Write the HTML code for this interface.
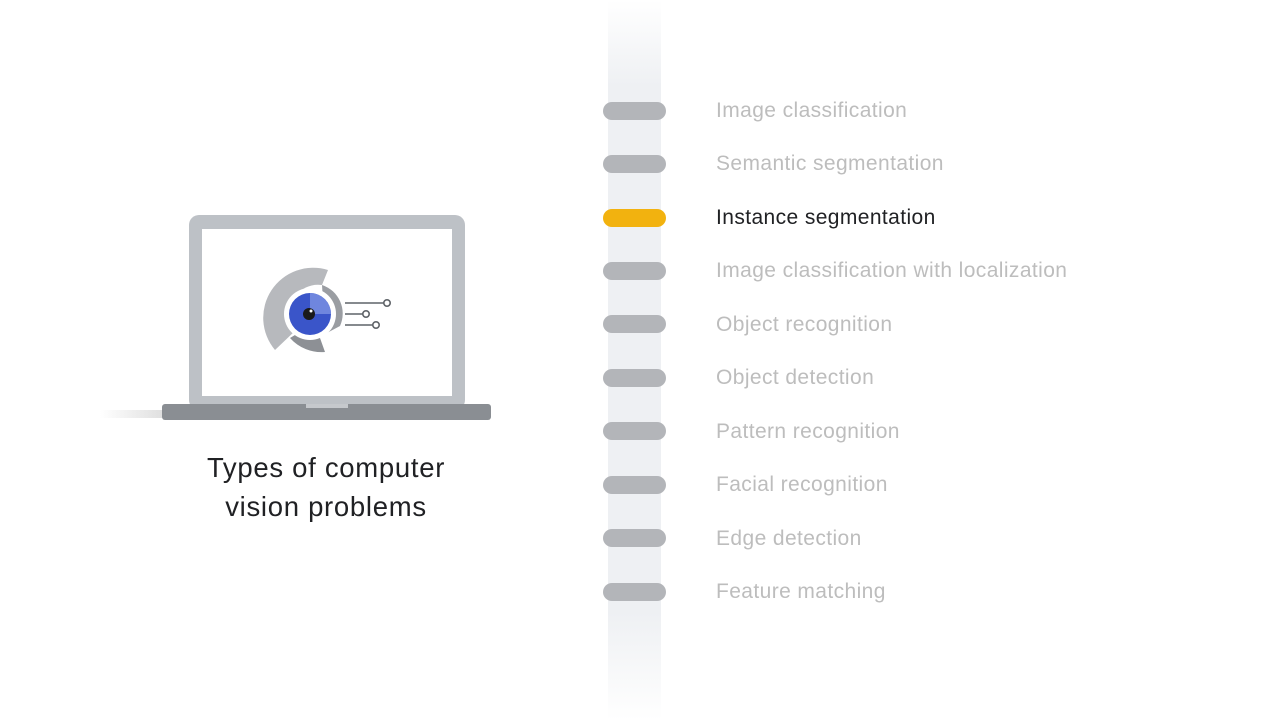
<!DOCTYPE html>
<html><head><style>
body{margin:0;width:1280px;height:720px;background:#fff;position:relative;overflow:hidden;font-family:"Liberation Sans",sans-serif}
.strip{position:absolute;left:608px;top:0;width:53px;height:720px;background:linear-gradient(#fff 0%,#eef0f3 12%,#eef0f3 85%,#fff 100%)}
.pill{position:absolute;left:603px;width:63px;height:18px;border-radius:9px;background:#b3b5b9}
.lbl{position:absolute;left:716px;font-size:21px;color:#bdbdbd;line-height:24px;letter-spacing:0.4px}
.title{position:absolute;left:140px;width:372px;top:448px;text-align:center;font-size:27.5px;line-height:39px;color:#202124;letter-spacing:0.7px}
</style></head><body>
<div class="strip"></div>
<div class="pill" style="top:102px"></div><div class="lbl" style="top:99px">Image classification</div>
<div class="pill" style="top:155px"></div><div class="lbl" style="top:152px">Semantic segmentation</div>
<div class="pill" style="top:209px;background:#f2b20f"></div><div class="lbl" style="top:206px;color:#202124">Instance segmentation</div>
<div class="pill" style="top:262px"></div><div class="lbl" style="top:259px">Image classification with localization</div>
<div class="pill" style="top:315px"></div><div class="lbl" style="top:313px">Object recognition</div>
<div class="pill" style="top:369px"></div><div class="lbl" style="top:366px">Object detection</div>
<div class="pill" style="top:422px"></div><div class="lbl" style="top:420px">Pattern recognition</div>
<div class="pill" style="top:476px"></div><div class="lbl" style="top:473px">Facial recognition</div>
<div class="pill" style="top:529px"></div><div class="lbl" style="top:527px">Edge detection</div>
<div class="pill" style="top:583px"></div><div class="lbl" style="top:580px">Feature matching</div>

<svg style="position:absolute;left:0;top:0" width="600" height="450">
<defs><linearGradient id="sh" x1="0" x2="1"><stop offset="0" stop-color="#fff"/><stop offset="1" stop-color="#e0e0e0"/></linearGradient></defs>
<rect x="100" y="410" width="62" height="8" fill="url(#sh)"/>
<rect x="189" y="215" width="276" height="195" rx="10" fill="#bdc1c6"/>
<rect x="202" y="229" width="250" height="167" fill="#fff"/>
<rect x="162" y="404" width="329" height="16" rx="3" fill="#8a8e93"/>
<rect x="306" y="404" width="42" height="4" fill="#c5c8cc"/>
<path d="M328 270 A50 50 0 0 0 275 350 L296 330 A28 28 0 0 1 322 285 Z" fill="#b7b9bd"/>
<path d="M322 285 A30 30 0 0 1 340 326 L325 334 Z" fill="#9a9da2"/>
<path d="M290 338 A42 42 0 0 0 325 352 L320 338 A30 30 0 0 1 300 332 Z" fill="#8d9095"/>
<circle cx="310" cy="314" r="26" fill="#fff"/>
<circle cx="310" cy="314" r="21" fill="#3a55c9"/>
<path d="M310 293 A21 21 0 0 1 331 314 L310 314 Z" fill="#6f86de"/>
<circle cx="309" cy="314" r="6" fill="#1a1a1a"/>
<circle cx="311" cy="311" r="1.5" fill="#fff"/>
<g stroke="#5f6368" stroke-width="1.6" fill="#fff">
<line x1="345" y1="303" x2="384" y2="303"/><line x1="345" y1="314" x2="363" y2="314"/><line x1="345" y1="325" x2="373" y2="325"/>
<circle cx="387" cy="303" r="3.2"/><circle cx="366" cy="314" r="3.2"/><circle cx="376" cy="325" r="3.2"/>
</g>
</svg>
<div class="title">Types of computer<br>vision problems</div>
</body></html>
